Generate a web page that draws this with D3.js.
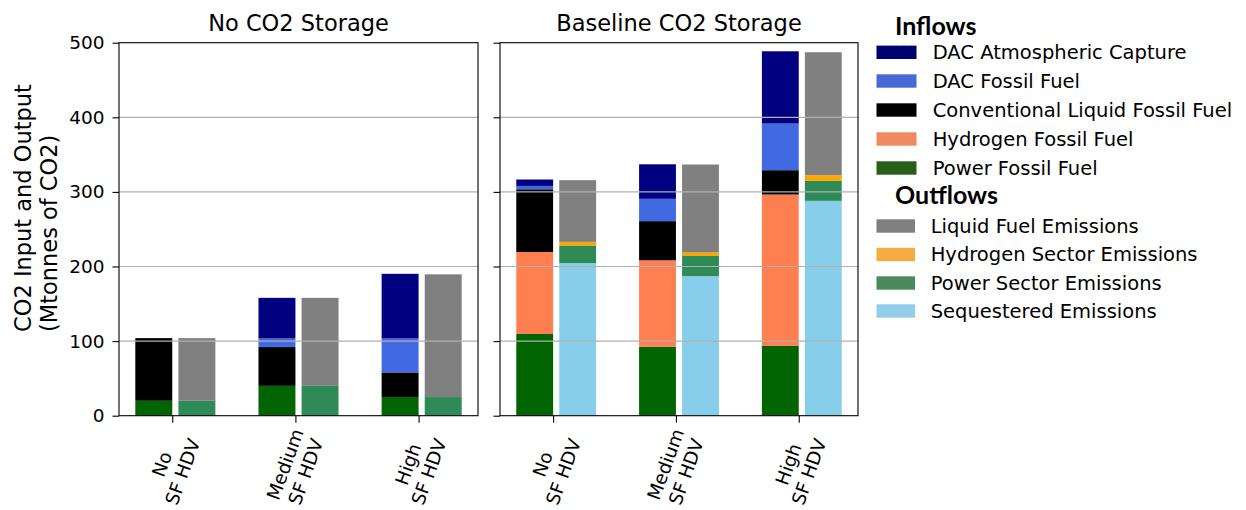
<!DOCTYPE html>
<html>
<head>
<meta charset="utf-8">
<script src="https://cdn.jsdelivr.net/npm/d3@7"></script>
<style>
  body { margin: 0; background: #fff; }
  svg { display: block; }
  text { font-family: "DejaVu Sans", sans-serif; fill: #000; }
</style>
</head>
<body>
<svg id="chart" width="1246" height="510"></svg>
<script>
// Scenario tick labels (two lines each) and panel titles
const scenarioLines = [["No", "SF HDV"], ["Medium", "SF HDV"], ["High", "SF HDV"]];
const panelTitles = ["No CO2 Storage", "Baseline CO2 Storage"];
const yTicks = [0, 100, 200, 300, 400, 500];

// Series names, stacked bottom to top
const inflowNames = ["Power Fossil Fuel", "Hydrogen Fossil Fuel", "Conventional Liquid Fossil Fuel",
                     "DAC Fossil Fuel", "DAC Atmospheric Capture"];
const outflowNames = ["Sequestered Emissions", "Power Sector Emissions",
                      "Hydrogen Sector Emissions", "Liquid Fuel Emissions"];

// Inflows, Mtonnes CO2 — No CO2 Storage
const powerFossilNone      = [20, 40, 25];
const hydrogenFossilNone   = [0, 0, 0];
const conventionalNone     = [84, 52, 33];
const dacFossilNone        = [0, 11.5, 45.5];
const dacAtmosphericNone   = [0, 54.5, 86.7];
// Outflows — No CO2 Storage
const sequesteredNone      = [0, 0, 0];
const powerSectorNone      = [20, 40, 25];
const hydrogenSectorNone   = [0, 0, 0];
const liquidFuelNone       = [84, 118, 164.5];

// Inflows — Baseline CO2 Storage
const powerFossilBase      = [109.5, 92.5, 93.5];
const hydrogenFossilBase   = [110, 115.8, 203];
const conventionalBase     = [84, 52.5, 32.6];
const dacFossilBase        = [4.5, 29.9, 62.5];
const dacAtmosphericBase   = [8.6, 46.3, 96.9];
// Outflows — Baseline CO2 Storage
const sequesteredBase      = [204.5, 187.1, 288];
const powerSectorBase      = [23.7, 27, 26.8];
const hydrogenSectorBase   = [4.8, 4.7, 7.6];
const liquidFuelBase       = [82.7, 117.9, 164.8];

// Bar fills
const inflowColors  = ["#006400", "#ff7f50", "#000000", "#4169e1", "#000080"];
const outflowColors = ["#87ceeb", "#2e8b57", "#ffa500", "#808080"];
// Legend swatch fills
const inflowSwatch  = ["#00006e", "#4a69d8", "#000000", "#ef8a60", "#2a5f19"];
const outflowSwatch = ["#808080", "#f2ac40", "#4a8a5c", "#93cde9"];

const panels = [
  { title: panelTitles[0],
    inflows:  [powerFossilNone, hydrogenFossilNone, conventionalNone, dacFossilNone, dacAtmosphericNone],
    outflows: [sequesteredNone, powerSectorNone, hydrogenSectorNone, liquidFuelNone] },
  { title: panelTitles[1],
    inflows:  [powerFossilBase, hydrogenFossilBase, conventionalBase, dacFossilBase, dacAtmosphericBase],
    outflows: [sequesteredBase, powerSectorBase, hydrogenSectorBase, liquidFuelBase] }
];

const svg = d3.select("#chart");
const panelRanges = [[119, 478], [500, 858]];
const plotTop = 42.7, plotBottom = 415.7;
const y = d3.scaleLinear().domain([0, 500]).range([plotBottom, plotTop]);

function rows(seriesList, names) {
  return scenarioLines.map((_, i) => {
    const r = { idx: i };
    names.forEach((n, k) => r[n] = seriesList[k][i]);
    return r;
  });
}

panels.forEach((p, pi) => {
  const [x0, x1] = panelRanges[pi];
  const x = d3.scaleLinear().domain([-0.4325, 2.4825]).range([x0, x1]);
  const g = svg.append("g");

  const inStack = d3.stack().keys(inflowNames)(rows(p.inflows, inflowNames));
  const outStack = d3.stack().keys(outflowNames)(rows(p.outflows, outflowNames));

  inStack.forEach((layer, k) => {
    g.append("g").attr("fill", inflowColors[k])
      .selectAll("rect").data(layer).join("rect")
      .attr("x", d => x(d.data.idx - 0.3))
      .attr("width", d => x(d.data.idx) - x(d.data.idx - 0.3))
      .attr("y", d => y(d[1]))
      .attr("height", d => Math.max(0, y(d[0]) - y(d[1])));
  });
  outStack.forEach((layer, k) => {
    g.append("g").attr("fill", outflowColors[k])
      .selectAll("rect").data(layer).join("rect")
      .attr("x", d => x(d.data.idx + 0.05))
      .attr("width", d => x(d.data.idx + 0.35) - x(d.data.idx + 0.05))
      .attr("y", d => y(d[1]))
      .attr("height", d => Math.max(0, y(d[0]) - y(d[1])));
  });

  // horizontal grid drawn over the bars
  g.append("g").selectAll("line").data(yTicks.slice(1, -1)).join("line")
    .attr("x1", x0).attr("x2", x1)
    .attr("y1", d => y(d)).attr("y2", d => y(d))
    .attr("stroke", "#b0b0b0").attr("stroke-width", 1.2);

  // y axis
  const yAxis = d3.axisLeft(y).tickValues(yTicks).tickSize(6.5).tickPadding(8);
  if (pi === 1) yAxis.tickFormat("");
  const ya = g.append("g").attr("transform", `translate(${x0},0)`).call(yAxis);
  ya.select(".domain").remove();
  ya.selectAll("line").attr("stroke", "#000").attr("stroke-width", 1.1);
  ya.selectAll("text").style("font-size", "18.5px").style("font-family", "DejaVu Sans");

  // x axis ticks
  const xa = g.append("g").attr("transform", `translate(0,${plotBottom})`)
    .call(d3.axisBottom(x).tickValues([0, 1, 2]).tickSize(7).tickFormat(""));
  xa.select(".domain").remove();
  xa.selectAll("line").attr("stroke", "#000").attr("stroke-width", 1.1);

  // rotated two-line scenario labels
  const lh = 22;
  scenarioLines.forEach((lines, i) => {
    const lg = g.append("g")
      .attr("transform", `translate(${x(i)},${468}) rotate(-70)`);
    lines.forEach((t, j) => {
      lg.append("text")
        .attr("text-anchor", "middle")
        .attr("dominant-baseline", "central")
        .attr("y", (j - 0.5) * lh)
        .style("font-size", "18.5px")
        .text(t);
    });
  });

  // frame
  g.append("rect").attr("x", x0).attr("y", plotTop)
    .attr("width", x1 - x0).attr("height", plotBottom - plotTop)
    .attr("fill", "none").attr("stroke", "#000").attr("stroke-width", 1.1);

  // panel title
  g.append("text").attr("x", (x0 + x1) / 2).attr("y", 31)
    .attr("text-anchor", "middle").style("font-size", "22.5px").text(p.title);
});

// y axis label (two lines, reading upward)
const yl = svg.append("g");
[["CO2 Input and Output", 31], ["(Mtonnes of CO2)", 57]].forEach(([t, bx]) => {
  yl.append("text")
    .attr("transform", `translate(${bx},332) rotate(-90)`)
    .attr("text-anchor", "start")
    .style("font-size", "22.5px")
    .text(t);
});

// legend
function legendBlock(title, titleY, names, swatches, rowYs, swatchX, swatchW, textX) {
  const lg = svg.append("g");
  lg.append("text").attr("x", 895).attr("y", titleY)
    .style("font-family", "Lato, sans-serif").style("font-weight", "bold")
    .style("font-size", "25px").text(title);
  names.forEach((n, k) => {
    lg.append("rect").attr("x", swatchX).attr("y", rowYs[k] - 6.7)
      .attr("width", swatchW).attr("height", 13.4).attr("fill", swatches[k]);
    lg.append("text").attr("x", textX).attr("y", rowYs[k])
      .attr("dominant-baseline", "central")
      .style("font-size", "19.5px").text(n);
  });
}
legendBlock("Inflows", 35, inflowNames.slice().reverse(), inflowSwatch,
  [52.3, 81, 110, 139, 168], 876.5, 40, 932.7);
legendBlock("Outflows", 204, outflowNames.slice().reverse(), outflowSwatch,
  [226, 254.5, 283, 311], 876.5, 38.5, 930.7);
</script>
</body>
</html>
